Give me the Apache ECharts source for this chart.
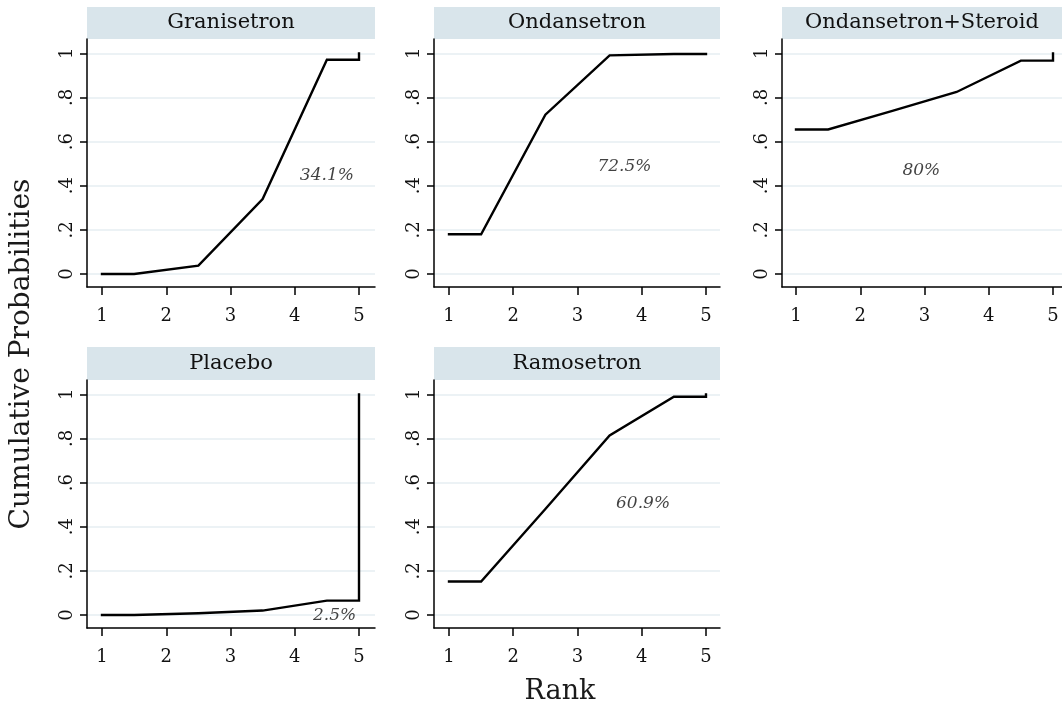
<!DOCTYPE html>
<html>
<head>
<meta charset="utf-8">
<script src="https://cdn.jsdelivr.net/npm/echarts@6/dist/echarts.min.js"></script>
<style>
html,body{margin:0;padding:0;background:#fff;}
#chart{width:1062px;height:712px;}
</style>
</head>
<body>
<div id="chart"></div>
<script>
// ---- data ----
const treatments = ['Granisetron', 'Ondansetron', 'Ondansetron+Steroid', 'Placebo', 'Ramosetron'];
const ranks = [1, 2, 3, 4, 5];
const cumGranisetron = [0.000, 0.038, 0.340, 0.971, 1.000];
const cumOndansetron = [0.180, 0.722, 0.991, 0.997, 1.000];
const cumOndSteroid  = [0.655, 0.739, 0.825, 0.967, 1.000];
const cumPlacebo     = [0.000, 0.008, 0.020, 0.065, 1.000];
const cumRamosetron  = [0.152, 0.480, 0.814, 0.989, 1.000];
const sucra = [34.1, 72.5, 80, 2.5, 60.9];
const yTickValues = [0, 0.2, 0.4, 0.6, 0.8, 1];
const yTickLabels = ['0', '.2', '.4', '.6', '.8', '1'];
const xTickValues = [1, 2, 3, 4, 5];
const cumByTreatment = [cumGranisetron, cumOndansetron, cumOndSteroid, cumPlacebo, cumRamosetron];

// ---- layout (not data) ----
const FONT = 'DejaVu Serif';
const cols = [
  {left: 87, right: 375, xMin: 0.7665, xMax: 5.249},
  {left: 434, right: 720, xMin: 0.7665, xMax: 5.218},
  {left: 782, right: 1062, xMin: 0.782, xMax: 5.14}
];
const rows = [
  {top: 39, bottom: 287, headerTop: 7},
  {top: 380, bottom: 628, headerTop: 347}
];
const yMin = -0.059, yMax = 1.065;
// SUCRA label anchor in each panel's data units
const labelPos = [[4.5, 0.445], [3.73, 0.486], [2.95, 0.47], [4.62, -0.003], [4.02, 0.507]];

function pathPoints(c) {
  return [
    [ranks[0], c[0]],
    [ranks[0] + 0.5, c[0]],
    [ranks[1] + 0.5, c[1]],
    [ranks[2] + 0.5, c[2]],
    [ranks[3] + 0.5, c[3]],
    [ranks[4], c[3]],
    [ranks[4], c[4]]
  ];
}

const grids = [], xAxes = [], yAxes = [], series = [], graphics = [];
treatments.forEach((name, i) => {
  const col = cols[i % 3], row = rows[Math.floor(i / 3)];
  grids.push({left: col.left, top: row.top, width: col.right - col.left, height: row.bottom - row.top,
              containLabel: false, outerBoundsMode: 'none'});
  xAxes.push({
    type: 'value', gridIndex: i, min: col.xMin, max: col.xMax, z: 2,
    axisLine: {show: true, onZero: false, lineStyle: {color: '#000', width: 1.5}},
    axisTick: {show: true, length: 8, customValues: xTickValues, lineStyle: {color: '#000', width: 1.5}},
    axisLabel: {customValues: xTickValues, color: '#111', fontFamily: FONT, fontSize: 18, margin: 20},
    splitLine: {show: false}
  });
  yAxes.push({
    type: 'value', gridIndex: i, min: yMin, max: yMax, z: 2,
    axisLine: {show: true, onZero: false, lineStyle: {color: '#000', width: 1.5}},
    axisTick: {show: true, length: 7, customValues: yTickValues, lineStyle: {color: '#000', width: 1.5}},
    axisLabel: {customValues: yTickValues, rotate: 90, color: '#111', fontFamily: FONT, fontSize: 18, margin: 11,
                formatter: v => yTickLabels[yTickValues.indexOf(Math.round(v * 10) / 10)]},
    splitLine: {show: false}
  });
  // gridlines
  series.push({
    type: 'line', xAxisIndex: i, yAxisIndex: i, data: [], z: 1, silent: true,
    markLine: {silent: true, z: 1, symbol: ['none', 'none'], animation: false, label: {show: false},
               lineStyle: {color: '#e6eef2', width: 1.5, type: 'solid'},
               data: yTickValues.map(v => ({yAxis: v}))}
  });
  // cumulative probability line
  series.push({
    type: 'line', xAxisIndex: i, yAxisIndex: i, z: 10, showSymbol: false, animation: false, silent: true,
    lineStyle: {color: '#000', width: 2.4, cap: 'square', join: 'miter'},
    data: pathPoints(cumByTreatment[i])
  });
  // SUCRA label
  series.push({
    type: 'scatter', xAxisIndex: i, yAxisIndex: i, z: 11, symbolSize: 0, animation: false, silent: true,
    label: {show: true, position: 'inside', formatter: sucra[i] + '%', color: '#111',
            fontFamily: FONT, fontStyle: 'italic', fontSize: 17},
    data: [labelPos[i]]
  });
  // header strip
  graphics.push({
    type: 'rect', shape: {x: col.left, y: row.headerTop, width: col.right - col.left, height: row.top - row.headerTop},
    style: {fill: '#d9e5eb'}, z: 0
  });
  graphics.push({
    type: 'text', x: (col.left + col.right) / 2, y: (row.headerTop + row.top) / 2,
    style: {text: name, fill: '#111', font: '21px "' + FONT + '"', textAlign: 'center', textVerticalAlign: 'middle'}
  });
});

graphics.push({
  type: 'text', x: 22, y: 354, rotation: Math.PI / 2,
  style: {text: 'Cumulative Probabilities', fill: '#1a1a1a', font: '28px "' + FONT + '"', textAlign: 'center', textVerticalAlign: 'middle'}
});
graphics.push({
  type: 'text', x: 560, y: 692,
  style: {text: 'Rank', fill: '#1a1a1a', font: '27px "' + FONT + '"', textAlign: 'center', textVerticalAlign: 'middle'}
});

const chart = echarts.init(document.getElementById('chart'), null, {renderer: 'canvas'});
chart.setOption({
  backgroundColor: '#fff',
  animation: false,
  grid: grids, xAxis: xAxes, yAxis: yAxes, series: series,
  graphic: graphics
});
</script>
</body>
</html>
